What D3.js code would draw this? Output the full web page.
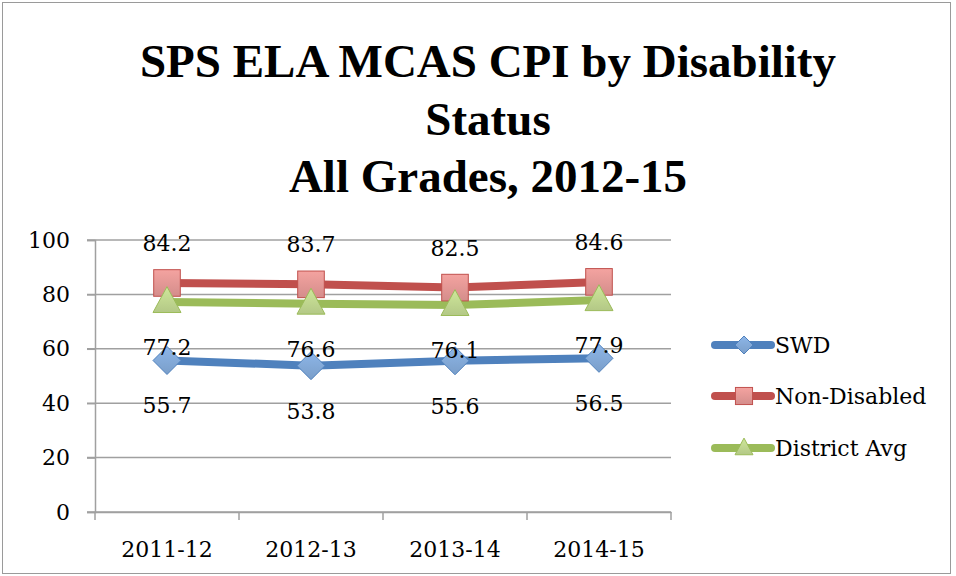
<html>
<head>
<script src="https://d3js.org/d3.v7.min.js"></script>
<style>
body { margin: 0; background: #fff; }
</style>
</head>
<body>
<div id="chart"></div>
<script>
// Data
var years = ["2011-12", "2012-13", "2013-14", "2014-15"];
var swd = [55.7, 53.8, 55.6, 56.5];
var nonDisabled = [84.2, 83.7, 82.5, 84.6];
var districtAvg = [77.2, 76.6, 76.1, 77.9];
var yTicks = [0, 20, 40, 60, 80, 100];
var titleLines = ["SPS ELA MCAS CPI by Disability", "Status", "All Grades, 2012-15"];

var series = [
  {name: "SWD", values: swd, color: "#4f81bd", light: "#8db6e8", shape: "diamond", labelDy: 53},
  {name: "Non-Disabled", values: nonDisabled, color: "#c0504d", light: "#f4a3a0", shape: "square", labelDy: -32},
  {name: "District Avg", values: districtAvg, color: "#9bbb59", light: "#cfe79a", shape: "triangle", labelDy: 53}
];

var width = 956, height = 576;
var serif = "'DejaVu Serif', 'Liberation Serif', serif";

var svg = d3.select("#chart").append("svg")
  .attr("width", width)
  .attr("height", height);

// frame
svg.append("rect")
  .attr("x", 2.5).attr("y", 2.5)
  .attr("width", width - 8).attr("height", height - 5)
  .attr("fill", "none").attr("stroke", "#9a9a9a").attr("stroke-width", 1);

// gradients for markers
var defs = svg.append("defs");
series.forEach(function(s, i) {
  var g = defs.append("linearGradient").attr("id", "grad" + i)
    .attr("x1", 0).attr("y1", 0).attr("x2", 0).attr("y2", 1);
  g.append("stop").attr("offset", "0%").attr("stop-color", s.light);
  g.append("stop").attr("offset", "100%").attr("stop-color", d3.color(s.light).darker(0.4));
});

// Title
svg.append("text")
  .attr("x", 488).attr("y", 77)
  .attr("text-anchor", "middle")
  .attr("font-family", "'Liberation Serif', serif")
  .attr("font-weight", "bold")
  .attr("font-size", "47px")
  .selectAll("tspan")
  .data(titleLines)
  .enter().append("tspan")
  .attr("x", 488)
  .attr("dy", function(d, i) { return i == 0 ? 0 : 57.5; })
  .text(function(d) { return d; });

// Scales
var x = d3.scaleBand().domain(years).range([95, 671]);
var y = d3.scaleLinear().domain([0, 100]).range([512, 240]);

// gridlines
svg.append("g").selectAll("line")
  .data(yTicks)
  .enter().append("line")
  .attr("x1", 87).attr("x2", 671)
  .attr("y1", function(d) { return y(d); })
  .attr("y2", function(d) { return y(d); })
  .attr("stroke", "#a0a0a0").attr("stroke-width", 1.5);

// y axis
var yAxis = svg.append("g")
  .attr("transform", "translate(95,0)")
  .call(d3.axisLeft(y).tickValues(yTicks).tickSize(8).tickPadding(17));
yAxis.selectAll("text")
  .attr("font-family", serif).attr("font-size", "22px").attr("fill", "#000");
yAxis.selectAll("line").attr("stroke", "#a0a0a0").attr("stroke-width", 1.5);
yAxis.select(".domain").attr("stroke", "#a0a0a0").attr("stroke-width", 1.5);

// x axis
var xAxis = svg.append("g")
  .attr("transform", "translate(0,512)")
  .call(d3.axisBottom(x).tickSize(0));
xAxis.select(".domain").attr("stroke", "#a0a0a0").attr("stroke-width", 1.5);
xAxis.selectAll("text")
  .attr("y", 45).attr("dy", 0)
  .attr("font-family", serif).attr("font-size", "22px").attr("fill", "#000");
// category tick marks between bands
xAxis.selectAll(".bandtick")
  .data(d3.range(years.length + 1))
  .enter().append("line")
  .attr("x1", function(d) { return 95 + d * x.step(); })
  .attr("x2", function(d) { return 95 + d * x.step(); })
  .attr("y1", 0).attr("y2", 8)
  .attr("stroke", "#a0a0a0").attr("stroke-width", 1.5);

var cx = function(d, i) { return x(years[i]) + x.bandwidth() / 2; };

var line = d3.line()
  .x(function(d, i) { return cx(d, i); })
  .y(function(d) { return y(d); });

function marker(sel, s, size) {
  if (s.shape == "diamond") {
    sel.append("path").attr("d", "M0," + (-size) + "L" + size + ",0L0," + size + "L" + (-size) + ",0Z");
  } else if (s.shape == "square") {
    sel.append("rect").attr("x", -size * 0.95).attr("y", -size * 0.95)
      .attr("width", size * 1.9).attr("height", size * 1.9);
  } else {
    sel.append("path").attr("d", "M0," + (-size * 1.1) + "L" + (size * 1.0) + "," + (size * 0.75) + "L" + (-size * 1.0) + "," + (size * 0.75) + "Z");
  }
}

// lines + markers
series.forEach(function(s, si) {
  svg.append("path")
    .datum(s.values)
    .attr("fill", "none")
    .attr("stroke", s.color)
    .attr("stroke-width", 8)
    .attr("d", line);
});

series.forEach(function(s, si) {
  var g = svg.append("g").selectAll("g")
    .data(s.values)
    .enter().append("g")
    .attr("transform", function(d, i) { return "translate(" + cx(d, i) + "," + y(d) + ")"; });
  g.each(function() { marker(d3.select(this), s, 14); });
  g.selectAll("path, rect")
    .attr("fill", "url(#grad" + si + ")")
    .attr("stroke", s.color).attr("stroke-width", 1);
});

// data labels
series.forEach(function(s) {
  svg.append("g").selectAll("text")
    .data(s.values)
    .enter().append("text")
    .attr("x", function(d, i) { return cx(d, i); })
    .attr("y", function(d) { return y(d) + s.labelDy; })
    .attr("text-anchor", "middle")
    .attr("font-family", serif)
    .attr("font-size", "22px")
    .text(function(d) { return d.toFixed(1); });
});

// legend
var legend = svg.append("g").selectAll("g")
  .data(series)
  .enter().append("g")
  .attr("transform", function(d, i) { return "translate(713," + [345, 396, 448][i] + ")"; });
legend.append("line")
  .attr("x1", 2).attr("x2", 58)
  .attr("stroke", function(d) { return d.color; })
  .attr("stroke-width", 8)
  .attr("stroke-linecap", "round");
legend.each(function(s, si) {
  var m = d3.select(this).append("g").attr("transform", "translate(31,0)");
  marker(m, s, 9);
  m.selectAll("path, rect")
    .attr("fill", "url(#grad" + si + ")")
    .attr("stroke", s.color).attr("stroke-width", 1);
});
legend.append("text")
  .attr("x", 62).attr("y", 8)
  .attr("font-family", serif)
  .attr("font-size", "22px")
  .text(function(d) { return d.name; });
</script>
</body>
</html>
